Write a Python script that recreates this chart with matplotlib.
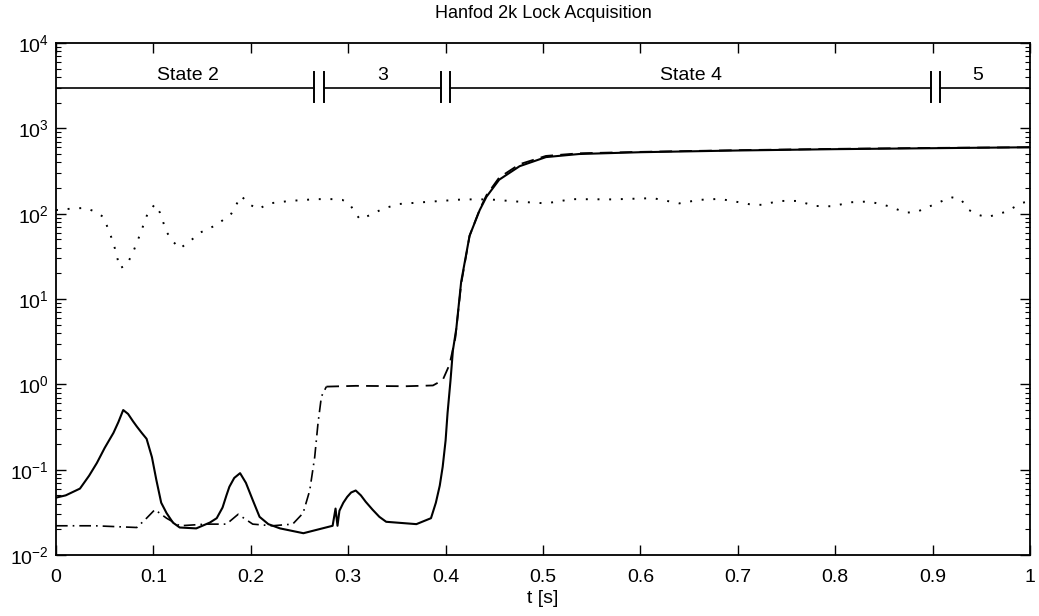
import matplotlib
matplotlib.use("Agg")
import matplotlib.pyplot as plt
from matplotlib.ticker import LogLocator, NullFormatter

plt.rcParams['font.family'] = ['Liberation Sans', 'DejaVu Sans']
plt.rcParams['mathtext.default'] = 'regular'

title = "Hanfod 2k Lock Acquisition"
xlabel = "t [s]"
xtick_vals = [0, 0.1, 0.2, 0.3, 0.4, 0.5, 0.6, 0.7, 0.8, 0.9, 1.0]
xtick_labels = ["0", "0.1", "0.2", "0.3", "0.4", "0.5", "0.6", "0.7", "0.8", "0.9", "1"]
ytick_vals = [1e-2, 1e-1, 1e0, 1e1, 1e2, 1e3, 1e4]

# solid trace
solid_t = [0.0, 0.01, 0.0246, 0.034, 0.042, 0.05, 0.059, 0.064, 0.069, 0.074, 0.079, 0.083,
           0.088, 0.093, 0.0985, 0.103, 0.108, 0.1135, 0.12, 0.127, 0.144,
           0.158, 0.165, 0.171, 0.175, 0.178, 0.183, 0.189, 0.195, 0.202, 0.209, 0.218,
           0.23, 0.254, 0.284, 0.287, 0.289, 0.291, 0.295, 0.299, 0.303,
           0.3077, 0.313, 0.318, 0.325, 0.332, 0.339, 0.37, 0.385, 0.39, 0.394, 0.397, 0.4,
           0.402, 0.405, 0.4075, 0.411, 0.416, 0.4246,
           0.435, 0.442, 0.455, 0.476, 0.503, 0.537, 0.6, 0.7, 0.8, 0.9, 1.0]
solid_v = [0.047, 0.05, 0.06, 0.085, 0.12, 0.18, 0.27, 0.36, 0.5, 0.45, 0.37, 0.32,
           0.27, 0.23, 0.14, 0.076, 0.041, 0.031, 0.024, 0.021, 0.0205,
           0.024, 0.027, 0.036, 0.05, 0.063, 0.08, 0.091, 0.07, 0.044, 0.028, 0.023,
           0.0205, 0.018, 0.022, 0.035, 0.022, 0.033, 0.041, 0.048, 0.054,
           0.057, 0.05, 0.042, 0.034, 0.028, 0.0245, 0.023, 0.027, 0.041, 0.065, 0.108, 0.22,
           0.46, 1.1, 2.5, 4.5, 16.0, 55.0,
           110.0, 158.0, 250.0, 360.0, 460.0, 500.0, 525.0, 550.0, 570.0, 585.0, 600.0]

# dash-dot trace (state 2 / 3 start)
dashdot_t = [0.0, 0.04, 0.083, 0.093, 0.1015, 0.1135, 0.127, 0.154, 0.175, 0.187, 0.202, 0.222,
             0.243, 0.2537, 0.2605, 0.2656, 0.269, 0.2725, 0.2776]
dashdot_v = [0.022, 0.022, 0.021, 0.027, 0.034, 0.027, 0.022, 0.023, 0.023, 0.030, 0.023, 0.022,
             0.023, 0.031, 0.057, 0.14, 0.35, 0.72, 0.94]

# dashed trace (state 3 onward)
dashed_t = [0.2776, 0.308, 0.359, 0.387, 0.397, 0.404, 0.41, 0.416, 0.4246, 0.435, 0.442,
            0.455, 0.476, 0.503, 0.537, 0.6, 0.7, 0.8, 0.9, 1.0]
dashed_v = [0.94, 0.96, 0.95, 0.97, 1.12, 1.7, 3.5, 15.0, 55.0, 112.0, 165.0,
            265.0, 380.0, 475.0, 510.0, 530.0, 555.0, 575.0, 590.0, 600.0]

# dotted trace
dotted_t = [0.0, 0.0092, 0.0297, 0.038, 0.0485, 0.0554, 0.0605, 0.0656, 0.0725, 0.079, 0.086,
            0.094, 0.1015, 0.1067, 0.1135, 0.1203, 0.127, 0.137, 0.148, 0.165, 0.18, 0.19,
            0.2, 0.2075, 0.219, 0.24, 0.267, 0.284, 0.294, 0.3015, 0.3067, 0.312, 0.325,
            0.336, 0.353, 0.3836, 0.418, 0.445, 0.476, 0.503, 0.53, 0.571, 0.613, 0.64,
            0.66, 0.681, 0.694, 0.715, 0.725, 0.7426, 0.761, 0.78, 0.797, 0.816, 0.835,
            0.854, 0.8725, 0.883, 0.9, 0.919, 0.929, 0.9375, 0.948, 0.956, 0.975, 0.992, 1.0]
dotted_v = [110, 113, 117, 108, 92, 59, 39, 23, 25, 35, 56,
            100, 129, 103, 61, 47, 39, 47, 60, 74, 100, 161,
            126, 113, 132, 141, 148, 148, 145, 130, 104, 86, 99,
            115, 130, 138, 147, 147, 138, 132, 148, 147, 152, 132,
            145, 149, 141, 127, 127, 141, 141, 123, 122, 136, 139,
            123, 103, 104, 126, 156, 147, 110, 96, 91, 105, 134, 140]

# state bar
state_level = 3000
state_breaks = [0.265, 0.275, 0.395, 0.405, 0.898, 0.908]
state_labels = ["State 2", "3", "State 4", "5"]
state_label_t = [0.135, 0.335, 0.652, 0.946]

fig = plt.figure(figsize=(10.39, 6.16), dpi=100)
ax = fig.add_axes([56 / 1039, 1 - 555 / 616, (1030 - 56) / 1039, (555 - 43) / 616])

ax.plot(dotted_t, dotted_v, color='black', lw=1.4, linestyle=(0, (1, 5)))
ax.plot(dashdot_t, dashdot_v, color='black', lw=1.2, linestyle=(0, (7, 3, 1, 3)))
ax.plot(dashed_t, dashed_v, color='black', lw=1.3, linestyle=(0, (7, 4)))
ax.plot(solid_t, solid_v, color='black', lw=1.5)

# state bar segments
edges = [0.0] + state_breaks + [1.0]
for i in range(0, len(edges), 2):
    ax.plot([edges[i], edges[i + 1]], [state_level, state_level], color='black', lw=1.2)
for b in state_breaks:
    ax.plot([b, b], [2050, 4600], color='black', lw=1.4)
for lab, t in zip(state_labels, state_label_t):
    ax.text(t, state_level * 1.1, lab, ha='center', va='bottom', fontsize=14)

ax.set_yscale('log')
ax.set_xlim(0, 1)
ax.set_ylim(1e-2, 1e4)
ax.set_xticks(xtick_vals)
ax.set_xticklabels(xtick_labels)
ax.set_yticks(ytick_vals)
ax.yaxis.set_minor_locator(LogLocator(base=10, subs=range(2, 10), numticks=100))
ax.yaxis.set_minor_formatter(NullFormatter())
ax.tick_params(which='both', direction='in', top=True, right=True, labelsize=14)
ax.tick_params(axis='x', which='major', pad=10)
ax.tick_params(axis='y', which='major', pad=5)
ax.tick_params(which='major', length=7, width=1)
ax.tick_params(which='minor', length=3.5, width=0.8)
for s in ax.spines.values():
    s.set_linewidth(1.3)

ax.set_title(title, fontsize=13, pad=18)
ax.set_xlabel(xlabel, fontsize=14, labelpad=3)

fig.savefig("out.png", dpi=100)
